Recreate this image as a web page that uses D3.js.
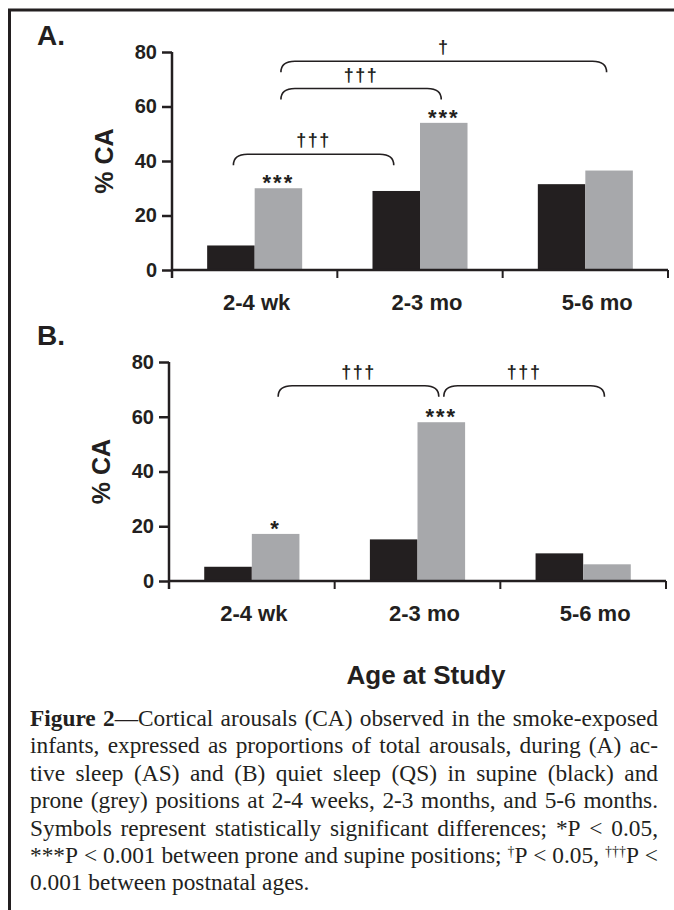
<!DOCTYPE html>
<html>
<head>
<meta charset="utf-8">
<script src="https://cdn.jsdelivr.net/npm/d3@7/dist/d3.min.js"></script>
<style>
  body { margin: 0; background: #fff; }
  svg { display: block; }
  .sans { font-family: "Liberation Sans", Arial, sans-serif; font-weight: bold; fill: #231f20; }
  .serif { font-family: "Liberation Serif", "Times New Roman", serif; fill: #231f20; }
</style>
</head>
<body>
<div id="chart"></div>
<script>
const W = 674
const H = 910
const ink = '#231f20'
const grey = '#a7a8ab'

const categories = ['2-4 wk', '2-3 mo', '5-6 mo']
const positions = ['supine', 'prone']
const yTicks = [0, 20, 40, 60, 80]

// (A) active sleep
const activeSupine = [9, 29, 31.5]
const activeProne = [30, 54, 36.5]
// (B) quiet sleep
const quietSupine = [5.2, 15.2, 10.1]
const quietProne = [17.2, 58, 6.1]

// significance marks, prone vs supine
const activeStars = [['2-4 wk', '***'], ['2-3 mo', '***']]
const quietStars = [['2-4 wk', '*'], ['2-3 mo', '***']]

// brackets between ages: [from cat, from pos, to cat, to pos, level, label]
const activeBrackets = [
	['2-4 wk', 'supine', '2-3 mo', 'supine', 42.5, '†††'],
	['2-4 wk', 'prone', '2-3 mo', 'prone', 66.6, '†††'],
	['2-4 wk', 'prone', '5-6 mo', 'prone', 76.6, '†']
]
const quietBrackets = [
	['2-4 wk', 'prone', '2-3 mo', 'prone', 71.3, '†††'],
	['2-3 mo', 'prone', '5-6 mo', 'prone', 71.3, '†††']
]

// ** ** = bold, ^ ^ = superscript
const captionLines = [
	'**Figure** **2**—Cortical arousals (CA) observed in the smoke-exposed',
	'infants, expressed as proportions of total arousals, during (A) ac-',
	'tive sleep (AS) and (B) quiet sleep (QS) in supine (black) and',
	'prone (grey) positions at 2-4 weeks, 2-3 months, and 5-6 months.',
	'Symbols represent statistically significant differences; *P < 0.05,',
	'***P < 0.001 between prone and supine positions; ^†^P < 0.05, ^†††^P <',
	'0.001 between postnatal ages.'
]

const svg = d3.select('#chart')
	.append('svg')
	.attr('width', W)
	.attr('height', H)

svg.append('rect').attr('width', W).attr('height', H).attr('fill', '#fff')

// frame: top and left rule
svg.append('path')
	.attr('d', `M${W},10 H9.5 V${H}`)
	.attr('fill', 'none')
	.attr('stroke', ink)
	.attr('stroke-width', 3)

function drawPanel(opts) {
	const {letter, letterY, left, right, top, bottom, supine, prone, stars, brackets} = opts

	const g = svg.append('g')

	const x = d3.scaleBand()
		.domain(categories)
		.range([left, right])
		.paddingInner(0)
		.paddingOuter(0)

	const x1 = d3.scaleBand()
		.domain(positions)
		.range([0, x.bandwidth()])
		.paddingInner(0)
		.paddingOuter(0.74)

	const y = d3.scaleLinear()
		.domain([0, 80])
		.range([bottom, top])

	const rows = categories.map((c, i) => ({cat: c, supine: supine[i], prone: prone[i]}))
	const cx = (cat, pos) => x(cat) + x1(pos) + x1.bandwidth() / 2

	// bars
	g.selectAll('g.grp')
		.data(rows)
		.enter()
		.append('g')
			.attr('transform', d => `translate(${x(d.cat)},0)`)
		.selectAll('rect')
		.data(d => positions.map(p => ({pos: p, v: d[p]})))
		.enter()
		.append('rect')
			.attr('x', d => x1(d.pos))
			.attr('width', x1.bandwidth())
			.attr('y', d => y(d.v))
			.attr('height', d => bottom - y(d.v))
			.attr('fill', d => d.pos === 'supine' ? ink : grey)

	// y axis
	const yAxis = d3.axisLeft(y)
		.tickValues(yTicks)
		.tickSize(10)
		.tickPadding(5)
	const yAxisGroup = g.append('g')
		.attr('transform', `translate(${left},0)`)
		.call(yAxis)
	yAxisGroup.select('.domain').attr('d', `M0,${top} V${bottom + 8}`)

	// x axis, ticks at category edges
	const edges = categories.map(c => x(c)).concat([right])
	const xAxisGroup = g.append('g')
		.attr('transform', `translate(0,${bottom})`)
	xAxisGroup.append('path')
		.attr('d', `M${left},0 H${right}`)
		.attr('stroke', ink)
		.attr('stroke-width', 2.5)
	xAxisGroup.selectAll('line')
		.data(edges)
		.enter()
		.append('line')
			.attr('x1', d => d)
			.attr('x2', d => d)
			.attr('y1', 0)
			.attr('y2', 8)
			.attr('stroke', ink)
			.attr('stroke-width', 2)

	yAxisGroup.selectAll('path, line')
		.attr('stroke', ink)
		.attr('stroke-width', 2.5)
	yAxisGroup.selectAll('text')
		.attr('class', 'sans')
		.attr('font-size', 20)
		.attr('font-family', null)

	// category labels (spread a little like the original)
	const xLabel = d3.scalePoint()
		.domain(categories)
		.range([x(categories[0]) + x.bandwidth() / 2 + 2, x(categories[2]) + x.bandwidth() / 2 + 12])
	g.selectAll('text.cat')
		.data(categories)
		.enter()
		.append('text')
			.attr('class', 'sans')
			.attr('x', d => xLabel(d))
			.attr('y', bottom + 40)
			.attr('text-anchor', 'middle')
			.attr('font-size', 22)
			.text(d => d)

	// y title
	g.append('text')
		.attr('class', 'sans')
		.attr('transform', `translate(${left - 59},${(top + bottom) / 2}) rotate(-90)`)
		.attr('text-anchor', 'middle')
		.attr('font-size', 25)
		.text('% CA')

	// panel letter
	g.append('text')
		.attr('class', 'sans')
		.attr('x', 37)
		.attr('y', letterY)
		.attr('font-size', 28)
		.text(letter)

	// asterisks
	g.selectAll('text.star')
		.data(stars)
		.enter()
		.append('text')
			.attr('class', 'sans')
			.attr('x', d => cx(d[0], 'prone'))
			.attr('y', d => y(prone[categories.indexOf(d[0])]) + 2)
			.attr('text-anchor', 'middle')
			.attr('font-size', 22)
			.attr('letter-spacing', 2)
			.text(d => d[1])

	// brackets
	const rx = 14, drop = 11, inset = 2.5
	brackets.forEach(b => {
		const xa = cx(b[0], b[1]) + inset
		const xb = cx(b[2], b[3]) - inset
		const yl = y(b[4])
		const path = `M${xa},${yl + drop} C${xa},${yl + drop * 0.35} ${xa + rx * 0.35},${yl} ${xa + rx},${yl}` +
			` L${xb - rx},${yl} C${xb - rx * 0.35},${yl} ${xb},${yl + drop * 0.35} ${xb},${yl + drop}`
		g.append('path')
			.attr('d', path)
			.attr('fill', 'none')
			.attr('stroke', ink)
			.attr('stroke-width', 1.6)
		g.append('text')
			.attr('class', 'sans')
			.attr('x', (xa + xb) / 2)
			.attr('y', yl - 8)
			.attr('text-anchor', 'middle')
			.attr('font-size', 18)
			.attr('letter-spacing', 1.5)
			.text(b[5])
	})
}

drawPanel({
	letter: 'A.', letterY: 45,
	left: 172, right: 668, top: 52, bottom: 270,
	supine: activeSupine, prone: activeProne,
	stars: activeStars, brackets: activeBrackets
})

drawPanel({
	letter: 'B.', letterY: 345,
	left: 169, right: 666, top: 362, bottom: 581,
	supine: quietSupine, prone: quietProne,
	stars: quietStars, brackets: quietBrackets
})

// x title
svg.append('text')
	.attr('class', 'sans')
	.attr('x', 426)
	.attr('y', 684)
	.attr('text-anchor', 'middle')
	.attr('font-size', 26)
	.text('Age at Study')

// caption, justified between capLeft and capRight
const capLeft = 30
const capRight = 658
const capTop = 726
const capLead = 27.4
let capSize = 20

function addSegments(textSel, word) {
	const parts = word.split(/(\*\*[^*]+\*\*|\^[^^]+\^)/).filter(s => s.length)
	let raised = false
	parts.forEach(p => {
		const t = textSel.append('tspan')
		if (p.startsWith('**') && p.endsWith('**') && p.length > 4) {
			t.attr('font-weight', 'bold').text(p.slice(2, -2))
		} else if (p.startsWith('^') && p.endsWith('^')) {
			t.attr('font-size', '0.6em').attr('dy', -7).attr('fill', ink).text(p.slice(1, -1))
			raised = true
			return
		} else {
			t.text(p)
		}
		if (raised) { t.attr('dy', 7); raised = false }
	})
}

// fit the size so the fullest line has normal word spaces
const probe = svg.append('text').attr('class', 'serif').attr('font-size', capSize)
const natural = captionLines.slice(0, -1).map(line => {
	probe.selectAll('*').remove()
	probe.text(null)
	addSegments(probe, line.replace(/\s+/g, ' '))
	return probe.node().getComputedTextLength()
})
probe.remove()
capSize = capSize * (capRight - capLeft) / d3.max(natural) * 0.995

captionLines.forEach((line, li) => {
	const words = line.split(' ')
	const lg = svg.append('g')
	const yy = capTop + li * capLead
	const nodes = words.map(w => {
		const t = lg.append('text')
			.attr('class', 'serif')
			.attr('font-size', capSize)
			.attr('y', yy)
		addSegments(t, w)
		return t
	})
	const widths = nodes.map(t => t.node().getComputedTextLength())
	const total = d3.sum(widths)
	const last = li === captionLines.length - 1
	const gap = last ? capSize * 0.25 : (capRight - capLeft - total) / (words.length - 1)
	let cur = capLeft
	nodes.forEach((t, i) => {
		t.attr('x', cur)
		cur += widths[i] + gap
	})
})
</script>
</body>
</html>
